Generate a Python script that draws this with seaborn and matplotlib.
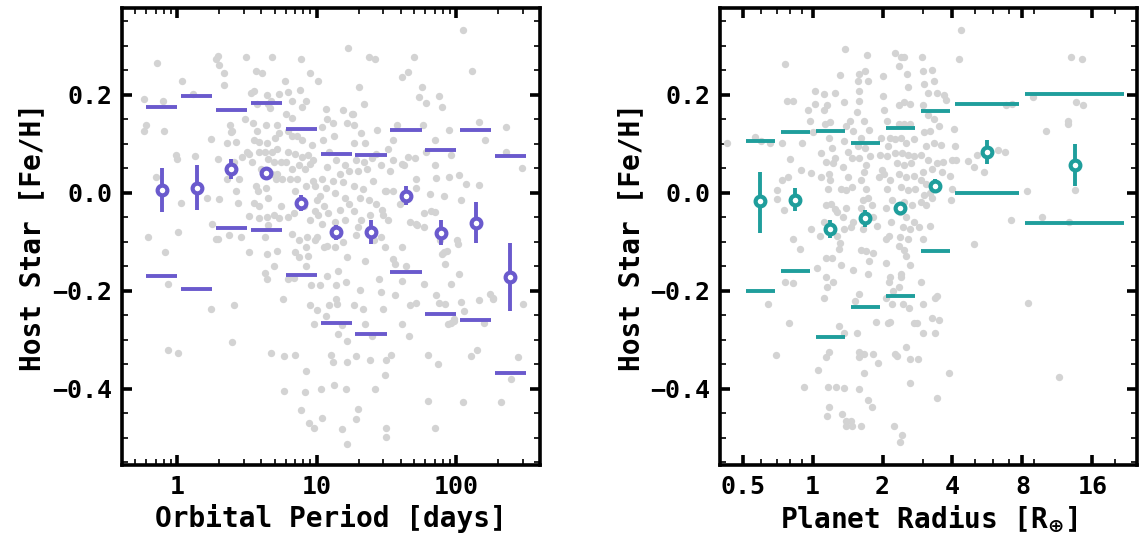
import numpy as np
import pandas as pd
import matplotlib
matplotlib.use("Agg")
import matplotlib.pyplot as plt
import seaborn as sns
from matplotlib.ticker import LogLocator, NullFormatter, FixedLocator, FixedFormatter

# ---------------- data: left panel (orbital period) ----------------
left_log_period = [
    -0.236, -0.223, -0.236, -0.213, -0.146, -0.103, -0.097, -0.149, -0.090, -0.064, -0.069, -0.008, 0.0, 0.003, 0.005,
    0.033, 0.026, 0.115, 0.131, 0.210, 0.244, 0.251,
    0.277, 0.295, 0.297, 0.333, 0.338, 0.244, 0.292, 0.303, 0.277, 0.292, 0.359, 0.377, 0.385, 0.395, 0.354, 0.423,
    0.436, 0.444, 0.392, 0.405, 0.374, 0.456, 0.487, 0.495, 0.500, 0.513, 0.518, 0.462, 0.410, 0.423,
    0.564, 0.608, 0.679, 0.531, 0.551, 0.641, 0.672, 0.731, 0.572, 0.654, 0.662, 0.546, 0.569, 0.636, 0.713, 0.551,
    0.590, 0.641, 0.700, 0.731, 0.513, 0.585, 0.628, 0.679, 0.718, 0.538, 0.654, 0.692, 0.744, 0.564, 0.577, 0.636,
    0.654, 0.705, 0.718, 0.551, 0.590, 0.641, 0.692, 0.731, 0.585, 0.654, 0.744, 0.628, 0.718, 0.646, 0.628, 0.692,
    0.641, 0.672, 0.769, 0.764, 0.756, 0.749, 0.603, 0.679,
    0.774, 0.795, 0.821, 0.879, 0.885, 0.954, 1.013, 0.897, 0.923, 0.782, 0.821, 0.795, 0.826, 0.859, 0.897, 0.969,
    0.795, 0.846, 0.892, 0.936, 0.974, 0.782, 0.821, 0.872, 0.918, 0.954, 0.808, 0.859, 0.846, 0.923, 0.974, 0.795,
    0.841, 0.910, 0.949, 0.987, 0.821, 0.872, 0.928, 0.923, 0.987, 0.846, 0.872, 0.923, 0.936, 0.841, 0.795, 0.962,
    0.954, 0.846, 0.923, 0.885, 0.918, 0.944, 0.982, 0.979, 1.0, 0.987, 1.0,
    1.064, 1.077, 1.115, 1.038, 1.123, 1.192, 1.218, 1.226, 1.262, 1.046, 1.085, 1.141, 1.200, 1.077, 1.167, 1.231,
    1.038, 1.115, 1.192, 1.064, 1.026, 1.128, 1.205, 1.051, 1.013, 1.082, 1.167, 1.231, 1.038, 1.128, 1.205, 1.0,
    1.077, 1.128, 1.192, 1.218, 1.051, 1.154, 1.141, 1.077, 1.026, 1.210, 1.141, 1.085, 1.149, 1.067, 1.105, 1.115,
    1.123, 1.033, 1.038, 1.185, 1.218, 1.210, 1.218, 1.218, 1.154, 1.185,
    1.372, 1.418, 1.303, 1.341, 1.256, 1.269, 1.321, 1.436, 1.349, 1.423, 1.269, 1.282, 1.341, 1.397, 1.462, 1.295,
    1.359, 1.405, 1.269, 1.333, 1.487, 1.308, 1.372, 1.423, 1.467, 1.269, 1.321, 1.385, 1.474, 1.295, 1.282, 1.410,
    1.462, 1.487, 1.346, 1.308, 1.449, 1.462, 1.333, 1.474, 1.269, 1.344, 1.397, 1.385, 1.415, 1.500, 1.487, 1.282,
    1.295, 1.282, 1.500, 1.495, 1.533,
    1.697, 1.654, 1.615, 1.551, 1.577, 1.513, 1.544, 1.615, 1.654, 1.705, 1.526, 1.628, 1.713, 1.500, 1.551, 1.713,
    1.595, 1.667, 1.713, 1.615, 1.551, 1.559, 1.641, 1.615, 1.559, 1.667, 1.713, 1.615, 1.662, 1.513,
    1.756, 1.731, 1.782, 1.877, 1.897, 1.764, 1.846, 1.949, 1.962, 1.782, 1.846, 1.859, 1.949, 1.815, 1.910, 1.769,
    1.821, 1.846, 1.769, 1.718, 1.885, 1.910, 1.897, 1.923, 1.936, 1.769, 1.859, 1.877, 1.923, 1.944, 1.962, 1.795,
    1.867, 1.795, 1.851, 1.987, 1.982,
    2.046, 2.115, 2.167, 2.205, 2.021, 2.072, 2.162, 2.033, 2.008, 2.015, 2.021, 1.964, 2.038, 2.056, 2.167, 2.200,
    2.244, 2.264, 2.149, 2.108, 2.051, 2.321, 2.359, 2.359, 2.474, 2.479, 2.441, 2.397, 2.264,
]
left_feh = [
    0.191, 0.139, 0.127, -0.090, 0.264, 0.187, 0.125, 0.033, -0.122, -0.187, -0.322, 0.077, 0.068, -0.080, -0.328,
    0.228, -0.022, 0.202, 0.074, -0.010, -0.237, -0.064,
    0.273, 0.280, 0.261, 0.244, 0.219, 0.110, 0.068, -0.013, -0.095, -0.095, 0.102, 0.139, 0.123, 0.125, 0.029, 0.003,
    -0.021, 0.028, -0.305, -0.230, -0.087, -0.090, 0.150, 0.277, 0.084, -0.047, -0.122, 0.073, 0.063, 0.104,
    0.249, 0.244, 0.277, 0.203, 0.207, 0.200, 0.187, 0.202, 0.181, 0.181, 0.172, 0.143, 0.125, 0.139, 0.139, 0.108,
    0.104, 0.101, 0.111, 0.122, 0.080, 0.084, 0.084, 0.084, 0.090, 0.063, 0.068, 0.063, 0.063, 0.014, 0.003, 0.010,
    -0.010, 0.028, 0.038, -0.021, -0.028, -0.049, -0.045, -0.052, -0.052, -0.066, -0.028, -0.090, -0.118, -0.125, -0.164, -0.150,
    -0.177, -0.328, -0.334, -0.404, -0.217, 0.029, 0.049, 0.038,
    0.228, 0.205, 0.188, 0.210, 0.274, 0.245, 0.228, 0.174, 0.188, 0.160, 0.153, 0.125, 0.115, 0.115, 0.108, 0.097,
    0.084, 0.080, 0.073, 0.077, 0.066, 0.063, 0.049, 0.056, 0.049, 0.059, 0.028, 0.028, 0.003, 0.014, 0.024, -0.050,
    -0.042, -0.028, -0.056, -0.038, -0.084, -0.097, -0.090, -0.111, -0.097, -0.122, -0.132, -0.150, -0.129, -0.174, -0.177, -0.188,
    -0.230, -0.331, -0.365, -0.443, -0.407, -0.471, -0.480, -0.268, -0.240, 0.014, -0.014,
    0.171, 0.150, 0.143, 0.134, 0.116, 0.168, 0.143, 0.296, 0.161, 0.108, 0.084, 0.066, 0.056, 0.052, 0.038, 0.045,
    0.028, 0.024, 0.021, 0.010, -0.007, 0.000, -0.010, -0.028, -0.045, -0.042, -0.036, -0.024, -0.063, -0.059, -0.056, -0.090,
    -0.108, -0.111, -0.101, -0.132, -0.111, -0.160, -0.188, -0.171, -0.188, -0.183, -0.216, -0.230, -0.228, -0.251, -0.331, -0.345,
    -0.393, -0.400, -0.459, -0.482, -0.513, -0.400, -0.345, -0.303, -0.289, -0.270,
    0.277, 0.274, 0.216, 0.181, 0.160, 0.139, 0.122, 0.129, 0.101, 0.080, 0.101, 0.066, 0.063, 0.070, 0.056, 0.045,
    0.049, 0.024, 0.014, 0.007, 0.003, -0.010, -0.014, -0.024, -0.035, -0.038, -0.056, -0.045, -0.045, -0.070, -0.087, -0.097,
    -0.090, -0.111, -0.139, -0.198, -0.177, -0.202, -0.237, -0.237, -0.230, -0.268, -0.292, -0.341, -0.400, -0.341, -0.372, -0.334,
    -0.442, -0.461, -0.480, -0.498, -0.331,
    0.277, 0.247, 0.237, 0.108, 0.139, 0.090, 0.066, 0.059, 0.073, 0.070, 0.045, 0.056, 0.028, 0.003, 0.003, 0.010,
    -0.024, -0.059, -0.063, -0.111, -0.136, -0.146, -0.150, -0.181, -0.209, -0.230, -0.226, -0.268, -0.292, -0.056,
    0.216, 0.195, 0.183, 0.197, 0.174, 0.139, 0.108, 0.129, 0.077, 0.084, 0.056, 0.031, 0.033, -0.003, -0.007, -0.042,
    -0.038, -0.040, -0.070, -0.066, -0.097, -0.122, -0.125, -0.146, -0.118, -0.187, -0.209, -0.226, -0.228, -0.268, -0.265, -0.331,
    -0.349, -0.426, -0.480, -0.261, -0.258,
    0.333, 0.248, 0.145, 0.108, 0.036, 0.017, 0.015, -0.014, -0.097, -0.104, -0.166, -0.187, -0.223, -0.242, -0.219, -0.265,
    -0.207, -0.216, -0.322, -0.334, -0.428, -0.428, 0.134, 0.084, 0.051, -0.228, -0.335, -0.381, -0.214,
]

period_bin_centers = [0.776, 1.38, 2.45, 4.36, 7.76, 13.8, 24.5, 43.7, 77.6, 138, 245]
period_mean = [0.006, 0.010, 0.049, 0.040, -0.021, -0.081, -0.080, -0.006, -0.082, -0.061, -0.173]
period_err_top = [0.051, 0.056, 0.068, 0.050, -0.005, -0.065, -0.056, 0.014, -0.056, -0.019, -0.103]
period_err_bot = [-0.040, -0.036, 0.029, 0.029, -0.038, -0.097, -0.104, -0.026, -0.107, -0.103, -0.242]
period_upper = [0.175, 0.197, 0.168, 0.184, 0.131, 0.079, 0.077, 0.129, 0.088, 0.128, 0.074]
period_lower = [-0.171, -0.197, -0.072, -0.076, -0.168, -0.267, -0.289, -0.161, -0.248, -0.259, -0.368]

# ---------------- data: right panel (planet radius) ----------------
right_log2_radius = [
    -1.229, -0.823, -0.745, -0.604, -0.510, -0.510, -0.641, -0.531, -0.432, -0.396, -0.365, -0.286, -0.328, -0.443, -0.354, -0.417,
    -0.286, -0.276, -0.391, -0.333, -0.188, -0.172, -0.146, -0.120, -0.068, -0.042, -0.031, -0.026, 0.036, 0.036, 0.010, 0.115,
    0.115, 0.104, 0.068, 0.078, 0.167, 0.167, 0.208, 0.245, 0.229, 0.182, 0.193, 0.271, 0.297, 0.323, 0.229, 0.245,
    0.219, 0.260, 0.323, 0.349, 0.193, 0.167, 0.349, 0.385, 0.375, 0.193, 0.271, 0.401, 0.193, 0.208, 0.297, 0.156,
    0.375, 0.453, 0.229, 0.193, 0.219, 0.333, 0.453, 0.234, 0.417, 0.208, 0.385, 0.469, 0.323, 0.453, 0.531, 0.479,
    0.583, 0.453, 0.505, 0.557, 0.427, 0.505, 0.401, 0.479, 0.557, 0.479, 0.427, 0.542, 0.583, 0.453, 0.573, 0.479,
    0.479, 0.557, 0.688, 0.542, 0.646, 0.661, 0.750, 0.781, 0.792, 0.661, 0.661, 0.635, 0.740, 0.802, 0.688, 0.646,
    0.750, 0.818, 0.661, 0.766, 0.729, 0.688, 0.766, 0.792, 0.719, 0.688, 0.854, 0.865, 0.922, 0.719, 0.688, 0.766,
    0.865, 0.802, 0.792, 0.661, 0.609, 0.635, 0.661, 0.661, 0.729, 0.729, 0.661, 0.792, 0.844, 0.865, 0.906, 0.932,
    0.948, 0.958, 0.974, 0.990,
    1.010, 1.000, 1.026, 1.063, 1.104, 1.078, 1.063, 1.026, 1.104, 1.063, 1.130, 1.052, 1.115, 1.052, 1.094, 1.042,
    1.094, 1.104, 1.156, 1.052, 1.130, 1.078, 1.104, 1.172, 1.208, 1.167, 1.271, 1.250, 1.182, 1.260, 1.313, 1.234,
    1.354, 1.365, 1.313, 1.234, 1.391, 1.234, 1.313, 1.391, 1.182, 1.260, 1.339, 1.443, 1.182, 1.271, 1.365, 1.443,
    1.208, 1.313, 1.406, 1.234, 1.339, 1.443, 1.260, 1.365, 1.469, 1.313, 1.417, 1.250, 1.339, 1.443, 1.286, 1.391,
    1.521, 1.250, 1.365, 1.234, 1.313, 1.339, 1.391, 1.260, 1.260, 1.234, 1.286, 1.375, 1.443, 1.495, 1.339, 1.391,
    1.500, 1.391,
    1.563, 1.583, 1.703, 1.729, 1.599, 1.573, 1.651, 1.781, 1.885, 1.911, 1.651, 1.729, 1.807, 1.599, 1.677, 1.625,
    1.729, 1.833, 1.547, 1.651, 1.781, 1.859, 1.573, 1.703, 1.844, 1.547, 1.625, 1.599, 1.677, 1.547, 1.625, 1.703,
    1.677, 1.573, 1.547, 1.583, 1.755, 1.781, 1.703, 1.807, 1.583, 1.755, 1.948, 1.781, 2.120, 2.094, 2.016, 2.031,
    1.990, 2.052, 1.964, 1.990, 1.979, 2.224, 2.302, 2.354, 2.448, 2.313, 2.656, 2.745, 2.760, 2.833, 3.063, 3.073,
    3.146, 3.281, 3.344, 3.526, 3.646, 3.656, 3.667, 3.698, 3.750, 3.771, 3.854, 3.865, 2.849,
]
right_feh = [
    0.102, 0.114, 0.105, 0.102, 0.005, -0.012, -0.228, -0.331, 0.102, 0.263, 0.187, 0.187, 0.068, 0.025, 0.032, -0.035,
    -0.095, -0.184, -0.182, -0.266, -0.114, 0.047, 0.102, -0.396, 0.168, 0.146, 0.040, -0.075, 0.208, 0.182, 0.123, 0.081,
    0.032, -0.088, -0.154, -0.361, 0.201, 0.168, 0.179, 0.144, 0.111, 0.140, 0.063, 0.091, 0.060, 0.070, 0.039, 0.025,
    0.007, -0.023, -0.033, -0.039, -0.026, -0.060, -0.088, -0.102, -0.114, -0.133, -0.133, -0.147, -0.173, -0.193, -0.182, -0.215,
    -0.272, -0.287, -0.326, -0.336, -0.396, -0.396, -0.399, -0.438, -0.452, -0.455, 0.240, 0.294, 0.203, 0.186, 0.147, 0.137,
    0.126, 0.105, 0.084, 0.070, 0.053, 0.032, 0.007, 0.005, 0.011, -0.032, -0.049, -0.070, -0.060, -0.074, -0.158, -0.466,
    -0.476, -0.476, -0.476, -0.466, 0.229, 0.243, 0.249, 0.282, 0.228, 0.207, 0.187, 0.165, 0.147, 0.128, 0.112, 0.096,
    0.091, 0.074, 0.070, 0.056, 0.042, 0.025, 0.007, -0.011, -0.014, -0.032, -0.025, -0.049, -0.067, -0.074, -0.116, -0.119,
    -0.123, -0.140, -0.165, -0.207, -0.221, -0.287, -0.326, -0.336, -0.329, -0.368, -0.401, -0.424, -0.438, -0.329, -0.263, -0.347,
    0.032, 0.077, 0.112, 0.046,
    0.238, 0.198, 0.168, 0.147, 0.112, 0.095, 0.074, 0.039, 0.025, 0.007, -0.014, -0.032, -0.060, -0.095, -0.088, -0.144,
    -0.182, -0.172, -0.200, -0.214, -0.228, -0.266, -0.263, -0.329, -0.333, -0.476, -0.494, -0.508, 0.285, 0.277, 0.277, 0.259,
    0.242, 0.215, 0.186, 0.179, 0.182, 0.140, 0.140, 0.140, 0.110, 0.112, 0.102, 0.109, 0.082, 0.081, 0.077, 0.074,
    0.060, 0.056, 0.060, 0.039, 0.032, 0.035, 0.011, 0.005, 0.007, -0.018, -0.025, -0.039, -0.049, -0.060, -0.070, -0.074,
    -0.070, -0.091, -0.095, -0.109, -0.116, -0.130, -0.147, -0.165, -0.172, -0.193, -0.228, -0.235, -0.266, -0.266, -0.315, -0.340,
    -0.340, -0.389,
    0.277, 0.249, 0.250, 0.229, 0.221, 0.179, 0.203, 0.203, 0.200, 0.189, 0.158, 0.151, 0.137, 0.123, 0.126, 0.095,
    0.102, 0.098, 0.077, 0.067, 0.060, 0.063, 0.042, 0.049, 0.042, 0.025, 0.018, -0.004, 0.000, -0.018, -0.025, -0.011,
    -0.067, -0.095, -0.182, -0.228, -0.214, -0.210, -0.256, -0.259, -0.287, -0.287, -0.368, -0.420, 0.333, 0.273, 0.130, 0.095,
    0.067, 0.067, 0.035, 0.007, -0.014, 0.065, 0.053, 0.077, 0.042, -0.104, 0.088, 0.084, 0.179, -0.056, 0.004, -0.225,
    0.196, -0.049, 0.127, -0.376, 0.147, 0.140, -0.060, 0.277, 0.005, 0.186, 0.272, 0.180, 0.181,
]

radius_bin_edges = [0.5, 0.707, 1.0, 1.414, 2.0, 2.828, 4.0, 8.0, 22.6]
radius_mean = [-0.0175, -0.0147, -0.0735, -0.0525, -0.032, 0.014, 0.084, 0.057]
radius_err_top = [0.043, 0.009, -0.056, -0.036, -0.0245, 0.028, 0.1085, 0.100]
radius_err_bot = [-0.082, -0.038, -0.093, -0.070, -0.043, 0.0035, 0.0595, 0.014]
radius_upper = [0.105, 0.124, 0.125, 0.101, 0.132, 0.167, 0.181, 0.202]
radius_lower = [-0.201, -0.160, -0.295, -0.233, -0.211, -0.120, 0.0, -0.062]

# ---------------- styling ----------------
sns.set_style("ticks")
plt.rcParams["font.family"] = ["DejaVu Sans Mono"]
plt.rcParams["font.weight"] = "bold"
plt.rcParams["mathtext.fontset"] = "dejavusans"
for key in ("text.color", "axes.labelcolor", "xtick.color", "ytick.color", "axes.edgecolor"):
    plt.rcParams[key] = "black"

PURPLE = "#6a5acd"
TEAL = "#1f9e9c"
GRAY = "#d3d3d3"

fig = plt.figure(figsize=(11.42, 5.37), dpi=100)
ax1 = fig.add_axes([0.1066, 0.134, 0.3663, 0.851])
ax2 = fig.add_axes([0.6307, 0.134, 0.3652, 0.851])

df_left = pd.DataFrame({"period": 10 ** np.array(left_log_period), "feh": left_feh})
df_right = pd.DataFrame({"radius": 2 ** np.array(right_log2_radius), "feh": right_feh})

sns.scatterplot(data=df_left, x="period", y="feh", ax=ax1, color=GRAY, s=28,
                linewidth=0, zorder=1, legend=False)
sns.scatterplot(data=df_right, x="radius", y="feh", ax=ax2, color=GRAY, s=28,
                linewidth=0, zorder=1, legend=False)

# left binned summary
pc = np.array(period_bin_centers)
half = 10 ** 0.112
ax1.hlines(period_upper, pc / half, pc * half, color=PURPLE, lw=2.8, zorder=3)
ax1.hlines(period_lower, pc / half, pc * half, color=PURPLE, lw=2.8, zorder=3)
pm = np.array(period_mean)
yerr1 = [pm - np.array(period_err_bot), np.array(period_err_top) - pm]
ax1.errorbar(pc, pm, yerr=yerr1, fmt="o", color=PURPLE, mfc="white", mec=PURPLE,
             ms=7, mew=3.0, elinewidth=2.8, capsize=0, zorder=4)

# right binned summary
edges = np.array(radius_bin_edges)
lo, hi = edges[:-1], edges[1:]
rc = np.sqrt(lo * hi)
inset = 1.03
ax2.hlines(radius_upper, lo * inset, hi / inset, color=TEAL, lw=2.8, zorder=3)
ax2.hlines(radius_lower, lo * inset, hi / inset, color=TEAL, lw=2.8, zorder=3)
rm = np.array(radius_mean)
yerr2 = [rm - np.array(radius_err_bot), np.array(radius_err_top) - rm]
ax2.errorbar(rc, rm, yerr=yerr2, fmt="o", color=TEAL, mfc="white", mec=TEAL,
             ms=7, mew=3.0, elinewidth=2.8, capsize=0, zorder=4)

for ax in (ax1, ax2):
    ax.set_xscale("log")
    ax.set_ylim(-0.556, 0.377)
    ax.set_yticks([-0.4, -0.2, 0.0, 0.2])
    ax.set_yticks(np.arange(-0.55, 0.38, 0.05), minor=True)
    ax.xaxis.set_minor_locator(LogLocator(base=10, subs=np.arange(2, 10)))
    ax.xaxis.set_minor_formatter(NullFormatter())
    ax.tick_params(which="major", direction="in", length=7, width=2.6,
                   top=True, right=True, labelsize=18, pad=7, colors="black")
    ax.tick_params(which="minor", direction="in", length=4.5, width=1.2,
                   top=True, right=True, colors="black")
    for sp in ax.spines.values():
        sp.set_linewidth(2.6)
        sp.set_color("black")
    ax.set_ylabel("Host Star [Fe/H]", fontsize=20, fontweight="bold", color="black")

ax1.set_xlim(0.40, 400)
ax1.xaxis.set_major_locator(FixedLocator([1, 10, 100]))
ax1.xaxis.set_major_formatter(FixedFormatter(["1", "10", "100"]))
ax1.set_xlabel("Orbital Period [days]", fontsize=20, fontweight="bold", color="black")

ax2.set_xlim(0.40, 25)
ax2.xaxis.set_major_locator(FixedLocator([0.5, 1, 2, 4, 8, 16]))
ax2.xaxis.set_major_formatter(FixedFormatter(["0.5", "1", "2", "4", "8", "16"]))
ax2.set_xlabel(r"Planet Radius [R$_{\oplus}$]", fontsize=20, fontweight="bold", color="black")

for ax in (ax1, ax2):
    for lab in ax.get_xticklabels() + ax.get_yticklabels():
        lab.set_fontweight("bold")
        lab.set_color("black")

fig.savefig("out.png", dpi=100)
